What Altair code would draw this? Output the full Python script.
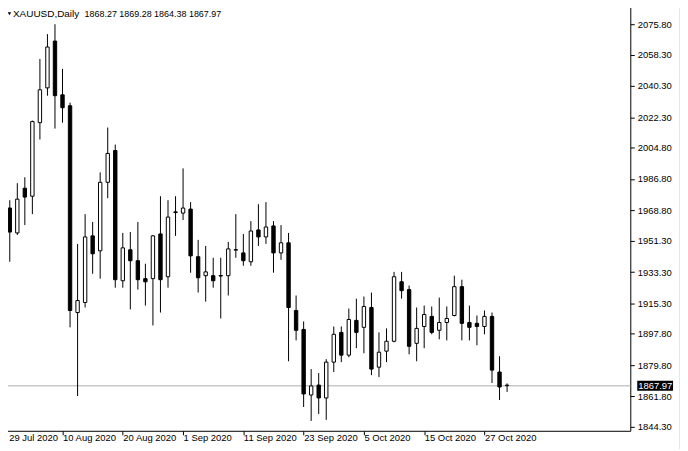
import altair as alt
import pandas as pd

symbol = "XAUUSD,Daily"
bar_index = list(range(69))
opens = [1981.5, 1956.3, 1970.1, 1955.8, 1981.5, 1976.9, 2019.2, 2039.2, 2066.1, 2035.2,
         2028.9, 1910.0, 1915.8, 1954.1, 1945.5, 1984.9, 2003.2, 1928.3, 1946.1, 1939.8,
         1929.5, 1929.5, 1955.2, 1930.6, 1967.9, 1967.2, 1969.5, 1942.1, 1931.2, 1931.2,
         1931.3, 1931.2, 1945.9, 1944.3, 1939.2, 1957.5, 1953.5, 1959.8, 1944.3, 1950.1,
         1911.2, 1900.3, 1862.6, 1868.3, 1860.9, 1881.5, 1898.6, 1885.5, 1905.5, 1901.5,
         1912.9, 1878.6, 1887.8, 1893.5, 1927.7, 1923.2, 1892.3, 1902.0, 1907.8, 1899.8,
         1904.3, 1908.3, 1924.9, 1904.3, 1903.8, 1902.0, 1907.8, 1875.8, 1868.27]
highs = [1983.2, 1974.6, 1974.6, 1984.4, 1987.8, 2020.4, 2055.8, 2070.1, 2075.8, 2050.1,
         2030.7, 1949.5, 1966.6, 1962.1, 1990.6, 2016.4, 2006.6, 1955.8, 1956.3, 1962.1,
         1938.1, 1954.6, 1976.9, 1974.6, 1976.9, 1992.9, 1973.5, 1951.8, 1948.3, 1941.5,
         1941.5, 1950.6, 1966.6, 1955.2, 1962.6, 1972.3, 1973.5, 1962.6, 1960.3, 1955.8,
         1919.8, 1904.9, 1877.5, 1875.2, 1883.2, 1902.0, 1902.0, 1912.3, 1918.0, 1919.2,
         1921.5, 1898.6, 1900.9, 1933.4, 1933.4, 1925.5, 1912.9, 1914.0, 1913.5, 1918.6,
         1913.5, 1931.2, 1928.9, 1914.0, 1908.3, 1911.2, 1910.0, 1884.9, 1869.28]
lows = [1939.2, 1954.1, 1939.2, 1954.6, 1960.3, 1966.6, 2009.5, 2034.7, 2015.8, 2019.2,
        1901.5, 1862.0, 1912.9, 1932.3, 1929.5, 1975.8, 1924.3, 1924.3, 1911.8, 1923.2,
        1914.0, 1902.6, 1910.0, 1924.3, 1954.1, 1963.2, 1932.9, 1921.5, 1916.3, 1924.3,
        1906.6, 1919.8, 1941.5, 1936.9, 1936.9, 1948.3, 1949.5, 1932.9, 1940.3, 1882.0,
        1894.0, 1855.7, 1847.7, 1851.7, 1848.3, 1875.8, 1881.5, 1884.3, 1889.5, 1886.6,
        1874.0, 1872.9, 1881.5, 1892.9, 1918.0, 1886.0, 1882.0, 1889.5, 1897.5, 1894.6,
        1894.0, 1907.8, 1894.0, 1894.0, 1891.2, 1897.5, 1869.5, 1859.7, 1864.38]
closes = [1941.5, 1970.1, 1956.3, 1975.2, 1976.4, 2019.8, 2038.1, 2062.7, 2034.7, 2027.8,
          1911.2, 1916.9, 1953.5, 1943.8, 1984.9, 2001.5, 1928.9, 1947.2, 1939.8, 1928.9,
          1927.7, 1954.1, 1928.9, 1964.9, 1967.5, 1970.1, 1942.6, 1930.0, 1933.4, 1928.3,
          1931.0, 1946.6, 1946.2, 1939.8, 1956.9, 1953.5, 1959.2, 1944.3, 1950.1, 1912.9,
          1899.8, 1863.2, 1867.8, 1860.9, 1881.5, 1897.5, 1885.5, 1906.0, 1898.6, 1913.5,
          1877.5, 1887.2, 1893.5, 1930.6, 1922.6, 1890.6, 1900.9, 1908.9, 1898.6, 1904.3,
          1906.6, 1924.9, 1903.8, 1901.5, 1902.0, 1907.8, 1876.9, 1867.2, 1867.97]

tick_index = [1, 9, 17, 25, 33, 41, 49, 57, 65]
tick_labels = ["29 Jul 2020", "10 Aug 2020", "20 Aug 2020", "1 Sep 2020", "11 Sep 2020",
               "23 Sep 2020", "5 Oct 2020", "15 Oct 2020", "27 Oct 2020"]
price_ticks = [2075.80, 2058.30, 2040.30, 2022.30, 2004.80, 1986.80, 1968.80, 1951.30,
               1933.30, 1915.30, 1897.80, 1879.80, 1861.80, 1844.30]

df = pd.DataFrame({"i": bar_index, "open": opens, "high": highs, "low": lows, "close": closes})
df["body_lo"] = df[["open", "close"]].min(axis=1)
df["body_hi"] = df[["open", "close"]].max(axis=1)
df["fill"] = ["#ffffff" if c > o else "#000000" for o, c in zip(opens, closes)]

last = df.iloc[[-1]].copy()
head = pd.DataFrame({
    "sym": [symbol],
    "ohlc": [f"{opens[-1]:.2f} {highs[-1]:.2f} {lows[-1]:.2f} {closes[-1]:.2f}"],
    "i": [bar_index[-1]],
})

label_expr = ""
for v, t in zip(tick_index, tick_labels):
    label_expr += f"datum.value == {v} ? '{t}' : "
label_expr += "''"

FONT = "Liberation Sans"
xs = alt.Scale(domain=[0.7098, 84.354], nice=False, zero=False, padding=0)
ys = alt.Scale(domain=[1842.01, 2088.95], nice=False, zero=False, padding=0)

x_axis = alt.Axis(values=tick_index, labelExpr=label_expr, labelAlign="left", labelPadding=2.5,
                  tickSize=4, labelFlush=False, labelOverlap=False, labelBound=False, title=None,
                  labelBaseline="middle",
                  labelOffset={"condition": {"test": f"datum.value == {tick_index[0]}", "value": 6.5},
                               "value": 0})
y_axis = alt.Axis(orient="right", values=price_ticks, format=".2f", labelPadding=3, tickSize=4,
                  labelFlush=False, labelOverlap=False, title=None, labelBaseline="middle")

X = alt.X("i:Q", scale=xs, axis=x_axis)


def Y(field):
    return alt.Y(field, scale=ys, axis=y_axis)


wicks = alt.Chart(df).mark_rule(color="#000000", strokeWidth=1).encode(
    x=X, y=Y("low:Q"), y2="high:Q",
)
bodies = alt.Chart(df).mark_bar(size=3.4, stroke="#000000", strokeWidth=1).encode(
    x=X, y=Y("body_lo:Q"), y2="body_hi:Q",
    fill=alt.Fill("fill:N", scale=None),
)
price_line = alt.Chart(last).mark_rule(color="#c8c8c8", strokeWidth=1.5).encode(
    y=Y("close:Q"),
)
price_box = alt.Chart(last).mark_point(
    shape="M-1,-0.28L1,-0.28L1,0.28L-1,0.28Z", filled=True, color="#000000", opacity=1, size=1296
).encode(x=alt.value(659), y=Y("close:Q"))
price_text = alt.Chart(last).mark_text(
    align="left", baseline="middle", color="#ffffff", font=FONT, fontSize=9.5
).encode(x=alt.value(642), y=Y("close:Q"),
         text=alt.Text("close:Q", format=".2f"))

head_sym = alt.Chart(head).mark_text(align="left", baseline="middle", font=FONT, fontSize=10,
                                     color="#000000").encode(
    x=alt.value(13), y=alt.value(12.5), text="sym:N")
head_vals = alt.Chart(head).mark_text(align="left", baseline="middle", font=FONT, fontSize=9,
                                      color="#000000").encode(
    x=alt.value(85), y=alt.value(12.5), text="ohlc:N")
head_tri = alt.Chart(head).mark_point(shape="triangle-down", filled=True, color="#000000",
                                      opacity=1, size=12).encode(
    x=alt.value(9.5), y=alt.value(12.5))
shift_tri = alt.Chart(head).mark_point(shape="triangle-down", filled=True, color="#a8a8a8",
                                       opacity=1, size=45).encode(
    x=X, y=alt.value(3))
strip = alt.Chart(head).mark_rect(color="#dfe7ef").encode(
    x=alt.value(683), x2=alt.value(700), y=alt.value(-10), y2=alt.value(460))

chart = alt.layer(
    strip, price_line, wicks, bodies, price_box, price_text, head_tri, head_sym, head_vals, shift_tri
).properties(
    width=634, height=432,
    autosize=alt.AutoSizeParams(type="none"),
    padding={"left": -8, "top": -8, "right": 50, "bottom": 17},
    background="#ffffff",
).configure_view(stroke=None).configure_axis(
    domainColor="#000000", tickColor="#000000", labelColor="#000000", labelFont=FONT,
    labelFontSize=9.5, grid=False, domainWidth=1, tickWidth=1,
)

chart.save("out.html", embed_options={"renderer": "svg", "actions": False})
